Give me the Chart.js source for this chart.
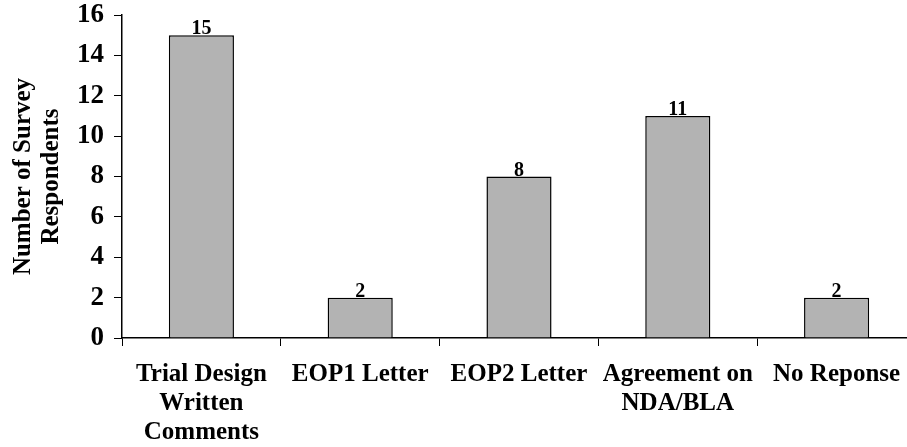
<!DOCTYPE html>
<html lang="en">
<head>
  <meta charset="UTF-8">
  <title>Survey Respondents</title>
  <script src="https://cdn.jsdelivr.net/npm/chart.js"></script>
  <style>
    body {
      margin: 0;
      padding: 0;
      background: white;
      overflow: hidden;
    }
    .chart-box {
      width: 916px;
      height: 447px;
    }
  </style>
</head>
<body>

<div class="chart-box"><canvas id="respChart"></canvas></div>

<script>
  // chart data
  const categories = [
    ['Trial Design', 'Written', 'Comments'],
    'EOP1 Letter',
    'EOP2 Letter',
    ['Agreement on', 'NDA/BLA'],
    'No Reponse'
  ];
  const respondents = [15, 2, 8, 11, 2];
  const yMax = 16;
  const yStep = 2;
  const yTitle = ['Number of Survey', 'Respondents'];

  const serif = "'Liberation Serif', 'Times New Roman', serif";

  // draws the value above each bar
  const barValues = {
    id: 'barValues',
    afterDatasetsDraw(chart) {
      const ctx = chart.ctx;
      const meta = chart.getDatasetMeta(0);
      ctx.save();
      ctx.font = 'bold 20px ' + serif;
      ctx.fillStyle = '#000';
      ctx.textAlign = 'center';
      ctx.textBaseline = 'alphabetic';
      meta.data.forEach((bar, i) => {
        ctx.fillText(respondents[i], bar.x, bar.y - 1);
      });
      ctx.restore();
    }
  };

  new Chart(document.getElementById('respChart'), {
    type: 'bar',
    data: {
      labels: categories,
      datasets: [{
        data: respondents,
        backgroundColor: '#b3b3b3',
        borderColor: '#000',
        borderWidth: 1.5,
        barPercentage: 0.41,
        categoryPercentage: 1
      }]
    },
    options: {
      responsive: true,
      maintainAspectRatio: false,
      animation: false,
      layout: { padding: { top: 15, right: 0, left: 0, bottom: 0 } },
      plugins: {
        legend: { display: false },
        tooltip: { enabled: false }
      },
      scales: {
        x: {
          afterFit(axis) {
            axis.height = 109;
            axis.paddingLeft = 0;
            axis.paddingRight = 0;
          },
          grid: {
            offset: true,
            drawOnChartArea: false,
            drawTicks: true,
            tickLength: 8,
            color: '#000'
          },
          border: { display: true, color: '#000', width: 1.5 },
          ticks: {
            color: '#000',
            padding: 14,
            maxRotation: 0,
            autoSkip: false,
            font: { family: serif, size: 25, weight: 'bold', lineHeight: 1.16 }
          }
        },
        y: {
          min: 0,
          max: yMax,
          afterFit(axis) {
            axis.width = 122;
            axis.paddingTop = 0;
            axis.paddingBottom = 0;
          },
          grid: {
            drawOnChartArea: false,
            drawTicks: true,
            tickLength: 8,
            color: '#000'
          },
          border: { display: true, color: '#000', width: 1.5 },
          ticks: {
            stepSize: yStep,
            color: '#000',
            padding: 10,
            font: { family: serif, size: 27, weight: 'bold' }
          },
          title: {
            display: true,
            text: yTitle,
            color: '#000',
            padding: { top: 10, bottom: 0 },
            font: { family: serif, size: 25, weight: 'bold', lineHeight: 1.1 }
          }
        }
      }
    },
    plugins: [barValues]
  });
</script>
</body>
</html>
